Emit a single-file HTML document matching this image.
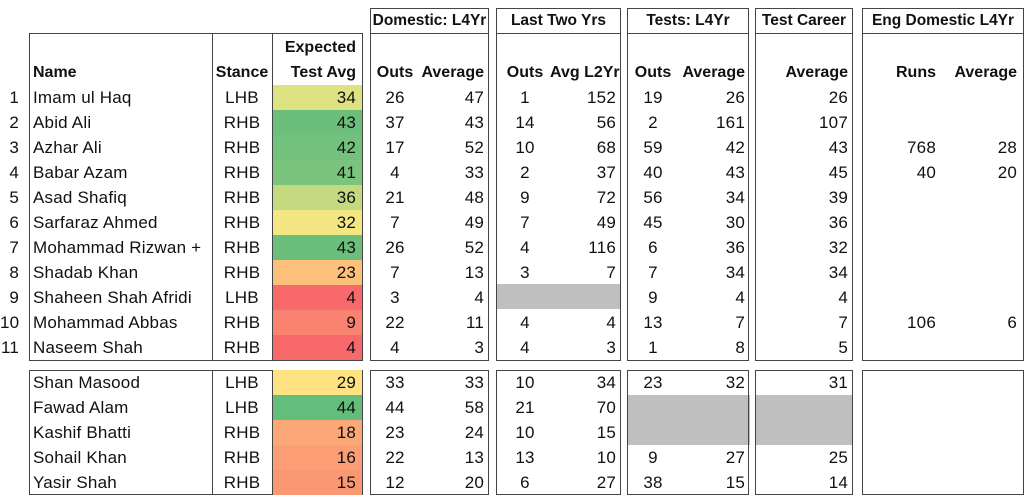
<!DOCTYPE html>
<html><head><meta charset="utf-8"><style>
body{margin:0;width:1024px;height:495px;background:#fff;position:relative;overflow:hidden;font-family:"Liberation Sans",Arial,sans-serif;font-size:17px;letter-spacing:0.2px;color:#111}
.b{position:absolute;border:1px solid #444;box-sizing:border-box}
.g{position:absolute;background:#bfbfbf}
.r{position:absolute;left:0;width:1024px;height:25px;line-height:25px}
.r span{position:absolute;top:0;height:25px;white-space:nowrap}
.n{left:0;width:19px;text-align:right}
.nm{left:33px}
.st{left:212px;width:60px;text-align:center}
.ex{left:273px;width:83px;padding-right:6px;text-align:right}
.d1{left:370px;width:50px;text-align:center}
.d2{left:420px;width:64px;text-align:right}
.l1{left:500px;width:50px;text-align:center}
.l2{left:550px;width:66px;text-align:right}
.t1{left:628px;width:50px;text-align:center}
.t2{left:680px;width:65px;text-align:right}
.c{left:760px;width:88px;text-align:right}
.e1{left:870px;width:66px;text-align:right}
.e2{left:950px;width:67px;text-align:right}
.h{font-weight:bold;font-size:16px;letter-spacing:0}
.hd{position:absolute;font-weight:bold;font-size:15.5px;letter-spacing:0;line-height:25px;text-align:center;white-space:nowrap}
</style></head><body>
<div class="g" style="left:497px;top:284px;width:123px;height:25px"></div>
<div class="g" style="left:628px;top:395px;width:122px;height:50px"></div>
<div class="g" style="left:756px;top:395px;width:96px;height:50px"></div>

<div class="b" style="left:29px;top:33px;width:334px;height:328px"></div>
<div class="b" style="left:212px;top:33px;width:61px;height:328px"></div>
<div class="b" style="left:29px;top:370px;width:334px;height:125px"></div>
<div class="b" style="left:212px;top:370px;width:61px;height:125px"></div>

<div class="b" style="left:370px;top:8px;width:119px;height:353px"></div>
<div class="b" style="left:370px;top:8px;width:119px;height:26px"></div>
<div class="b" style="left:370px;top:370px;width:119px;height:125px"></div>

<div class="b" style="left:496px;top:8px;width:125px;height:353px"></div>
<div class="b" style="left:496px;top:8px;width:125px;height:26px"></div>
<div class="b" style="left:496px;top:370px;width:125px;height:125px"></div>

<div class="b" style="left:627px;top:8px;width:122px;height:353px"></div>
<div class="b" style="left:627px;top:8px;width:122px;height:26px"></div>
<div class="b" style="left:627px;top:370px;width:122px;height:125px"></div>

<div class="b" style="left:755px;top:8px;width:98px;height:353px"></div>
<div class="b" style="left:755px;top:8px;width:98px;height:26px"></div>
<div class="b" style="left:755px;top:370px;width:98px;height:125px"></div>

<div class="b" style="left:862px;top:8px;width:162px;height:353px"></div>
<div class="b" style="left:862px;top:8px;width:162px;height:26px"></div>
<div class="b" style="left:862px;top:370px;width:162px;height:125px"></div>

<div class="hd" style="left:370px;top:8px;width:119px">Domestic: L4Yr</div>
<div class="hd" style="left:496px;top:8px;width:125px">Last Two Yrs</div>
<div class="hd" style="left:627px;top:8px;width:122px">Tests: L4Yr</div>
<div class="hd" style="left:755px;top:8px;width:98px">Test Career</div>
<div class="hd" style="left:862px;top:8px;width:162px">Eng Domestic L4Yr</div>

<div class="r h" style="top:35px"><span class="ex">Expected</span></div>
<div class="r h" style="top:60px"><span class="nm">Name</span><span class="st">Stance</span><span class="ex">Test Avg</span><span class="d1">Outs</span><span class="d2">Average</span><span class="l1">Outs</span><span class="l2">Avg L2Yr</span><span class="t1">Outs</span><span class="t2">Average</span><span class="c">Average</span><span class="e1">Runs</span><span class="e2">Average</span></div>

<div class="r" style="top:85px"><span class="n">1</span><span class="nm">Imam ul Haq</span><span class="st">LHB</span><span class="ex" style="background:#dfe282">34</span><span class="d1">26</span><span class="d2">47</span><span class="l1">1</span><span class="l2">152</span><span class="t1">19</span><span class="t2">26</span><span class="c">26</span></div>
<div class="r" style="top:110px"><span class="n">2</span><span class="nm">Abid Ali</span><span class="st">RHB</span><span class="ex" style="background:#6cbf7b">43</span><span class="d1">37</span><span class="d2">43</span><span class="l1">14</span><span class="l2">56</span><span class="t1">2</span><span class="t2">161</span><span class="c">107</span></div>
<div class="r" style="top:135px"><span class="n">3</span><span class="nm">Azhar Ali</span><span class="st">RHB</span><span class="ex" style="background:#72c17c">42</span><span class="d1">17</span><span class="d2">52</span><span class="l1">10</span><span class="l2">68</span><span class="t1">59</span><span class="t2">42</span><span class="c">43</span><span class="e1">768</span><span class="e2">28</span></div>
<div class="r" style="top:160px"><span class="n">4</span><span class="nm">Babar Azam</span><span class="st">RHB</span><span class="ex" style="background:#7ac47d">41</span><span class="d1">4</span><span class="d2">33</span><span class="l1">2</span><span class="l2">37</span><span class="t1">40</span><span class="t2">43</span><span class="c">45</span><span class="e1">40</span><span class="e2">20</span></div>
<div class="r" style="top:185px"><span class="n">5</span><span class="nm">Asad Shafiq</span><span class="st">RHB</span><span class="ex" style="background:#c4da80">36</span><span class="d1">21</span><span class="d2">48</span><span class="l1">9</span><span class="l2">72</span><span class="t1">56</span><span class="t2">34</span><span class="c">39</span></div>
<div class="r" style="top:210px"><span class="n">6</span><span class="nm">Sarfaraz Ahmed</span><span class="st">RHB</span><span class="ex" style="background:#f4e783">32</span><span class="d1">7</span><span class="d2">49</span><span class="l1">7</span><span class="l2">49</span><span class="t1">45</span><span class="t2">30</span><span class="c">36</span></div>
<div class="r" style="top:235px"><span class="n">7</span><span class="nm">Mohammad Rizwan +</span><span class="st">RHB</span><span class="ex" style="background:#6cbf7b">43</span><span class="d1">26</span><span class="d2">52</span><span class="l1">4</span><span class="l2">116</span><span class="t1">6</span><span class="t2">36</span><span class="c">32</span></div>
<div class="r" style="top:260px"><span class="n">8</span><span class="nm">Shadab Khan</span><span class="st">RHB</span><span class="ex" style="background:#fcc07b">23</span><span class="d1">7</span><span class="d2">13</span><span class="l1">3</span><span class="l2">7</span><span class="t1">7</span><span class="t2">34</span><span class="c">34</span></div>
<div class="r" style="top:285px"><span class="n">9</span><span class="nm">Shaheen Shah Afridi</span><span class="st">LHB</span><span class="ex" style="background:#f8696b">4</span><span class="d1">3</span><span class="d2">4</span><span class="t1">9</span><span class="t2">4</span><span class="c">4</span></div>
<div class="r" style="top:310px"><span class="n">10</span><span class="nm">Mohammad Abbas</span><span class="st">RHB</span><span class="ex" style="background:#f98370">9</span><span class="d1">22</span><span class="d2">11</span><span class="l1">4</span><span class="l2">4</span><span class="t1">13</span><span class="t2">7</span><span class="c">7</span><span class="e1">106</span><span class="e2">6</span></div>
<div class="r" style="top:335px"><span class="n">11</span><span class="nm">Naseem Shah</span><span class="st">RHB</span><span class="ex" style="background:#f8696b">4</span><span class="d1">4</span><span class="d2">3</span><span class="l1">4</span><span class="l2">3</span><span class="t1">1</span><span class="t2">8</span><span class="c">5</span></div>

<div class="r" style="top:370px"><span class="nm">Shan Masood</span><span class="st">LHB</span><span class="ex" style="background:#ffe383">29</span><span class="d1">33</span><span class="d2">33</span><span class="l1">10</span><span class="l2">34</span><span class="t1">23</span><span class="t2">32</span><span class="c">31</span></div>
<div class="r" style="top:395px"><span class="nm">Fawad Alam</span><span class="st">LHB</span><span class="ex" style="background:#63be7b">44</span><span class="d1">44</span><span class="d2">58</span><span class="l1">21</span><span class="l2">70</span></div>
<div class="r" style="top:420px"><span class="nm">Kashif Bhatti</span><span class="st">RHB</span><span class="ex" style="background:#fba777">18</span><span class="d1">23</span><span class="d2">24</span><span class="l1">10</span><span class="l2">15</span></div>
<div class="r" style="top:445px"><span class="nm">Sohail Khan</span><span class="st">RHB</span><span class="ex" style="background:#fb9d75">16</span><span class="d1">22</span><span class="d2">13</span><span class="l1">13</span><span class="l2">10</span><span class="t1">9</span><span class="t2">27</span><span class="c">25</span></div>
<div class="r" style="top:470px"><span class="nm">Yasir Shah</span><span class="st">RHB</span><span class="ex" style="background:#fa9874">15</span><span class="d1">12</span><span class="d2">20</span><span class="l1">6</span><span class="l2">27</span><span class="t1">38</span><span class="t2">15</span><span class="c">14</span></div>
</body></html>
